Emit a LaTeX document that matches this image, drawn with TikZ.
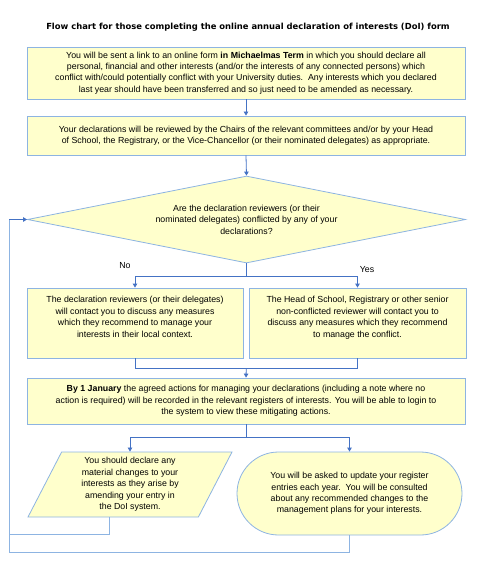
\documentclass[tikz,border=0pt]{standalone}
\usepackage{fontspec}
\setmainfont{Liberation Sans}
\newfontfamily\titlefont{DejaVu Sans}
\usetikzlibrary{shapes.geometric,shapes.misc,arrows.meta,calc}
\definecolor{boxfill}{RGB}{255,255,204}
\definecolor{boxline}{RGB}{141,180,226}
\definecolor{connblue}{RGB}{68,114,196}
\tikzset{
  flowbox/.style={draw=boxline, fill=boxfill, line width=0.8pt, align=center,
    font=\fontsize{8.8}{11.4}\selectfont, inner sep=0pt},
  arrowline/.style={draw=connblue, line width=0.8pt, -{Triangle[width=4.5pt,length=4pt]}},
  plainline/.style={draw=connblue, line width=0.8pt},
  loopline/.style={draw=boxline, line width=1pt},
  lbl/.style={font=\fontsize{8.8}{10}\selectfont, inner sep=0pt}
}
\begin{document}
\begin{tikzpicture}[x=1pt,y=-1pt]
\useasboundingbox (0,0) rectangle (479,567);

\node[font=\titlefont\bfseries\fontsize{8.4}{10}\selectfont] (title) at (248,27)
  {Flow chart for those completing the online annual declaration of interests (DoI) form};

\node[flowbox, minimum width=438pt, minimum height=52pt] (b1) at (246,73)
  {You will be sent a link to an online form \textbf{in Michaelmas Term} in which you should declare all\\
   personal, financial and other interests (and/or the interests of any connected persons) which\\
   conflict with/could potentially conflict with your University duties.\ \ Any interests which you declared\\
   last year should have been transferred and so just need to be amended as necessary.};

\node[flowbox, minimum width=438pt, minimum height=39pt] (b2) at (246,135.5)
  {Your declarations will be reviewed by the Chairs of the relevant committees and/or by your Head\\
   of School, the Registrary, or the Vice-Chancellor (or their nominated delegates) as appropriate.};

\node[flowbox, shape=diamond, aspect=5, minimum width=438pt, minimum height=87pt] (dec) at (246.5,219.5)
  {Are the declaration reviewers (or their\\
   nominated delegates) conflicted by any of your\\
   declarations?};

\node[flowbox, minimum width=216pt, minimum height=70pt] (lb) at (135,323)
  {The declaration reviewers (or their delegates)\\
   will contact you to discuss any measures\\
   which they recommend to manage your\\
   interests in their local context.\\[1pt]\mbox{}};

\node[flowbox, minimum width=217pt, minimum height=70pt] (rb) at (357.5,323)
  {The Head of School, Registrary or other senior\\
   non-conflicted reviewer will contact you to\\
   discuss any measures which they recommend\\
   to manage the conflict.\\[1pt]\mbox{}};

\node[flowbox, minimum width=438pt, minimum height=46pt] (b4) at (246,401)
  {\textbf{By 1 January} the agreed actions for managing your declarations (including a note where no\\
   action is required) will be recorded in the relevant registers of interests. You will be able to login to\\
   the system to view these mitigating actions.};

\node[flowbox, shape=trapezium, trapezium left angle=58, trapezium right angle=122,
      trapezium stretches body=true, minimum width=204pt, minimum height=65pt] (par) at (130,484.5)
  {You should declare any\\
   material changes to your\\
   interests as they arise by\\
   amending your entry in\\
   the DoI system.};

\node[flowbox, shape=rounded rectangle, minimum width=225pt, minimum height=83pt] (st) at (349.5,493.5)
  {You will be asked to update your register\\
   entries each year.\ \ You will be consulted\\
   about any recommended changes to the\\
   management plans for your interests.};

% connectors
\draw[arrowline] (b1.south) -- (b2.north);
\draw[arrowline] (b2.south) -- (dec.north);

\coordinate (split1) at ($(dec.south)+(0,13)$);
\draw[plainline] (dec.south) -- (split1);
\draw[arrowline] (split1) -| (lb.north);
\draw[arrowline] (split1) -| (rb.north);
\node[lbl] (no) at (125,266) {No};
\node[lbl] (yes) at (367,270) {Yes};

\coordinate (merge) at ($(lb.south)!0.5!(rb.south)+(0,10)$);
\draw[plainline] (lb.south) |- (merge) -| (rb.south);
\draw[arrowline] (merge) -- (b4.north);

\coordinate (split2) at ($(b4.south)+(0,13)$);
\draw[plainline] (b4.south) -- (split2);
\draw[arrowline] (split2) -| (par.north);
\draw[arrowline] (split2) -| (st.north);

% loop back
\coordinate (lc) at (9,552);
\coordinate (lc2) at (9,534);
\draw[loopline] ([xshift=-21pt]par.south) |- (lc2);
\draw[loopline] (st.south) |- (lc) -- (lc |- dec.west);
\draw[arrowline] (lc |- dec.west) -- (dec.west);
\end{tikzpicture}
\end{document}
